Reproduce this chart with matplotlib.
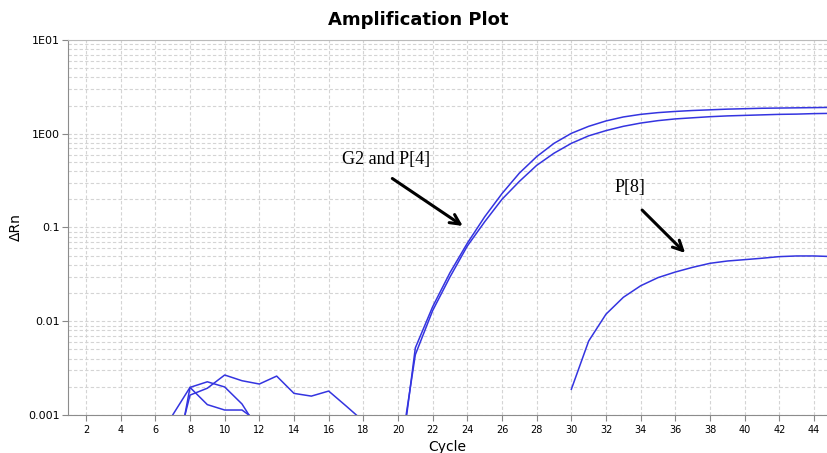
import matplotlib
matplotlib.use("Agg")
import matplotlib.pyplot as plt
from matplotlib.ticker import LogLocator, FixedLocator, NullFormatter
import numpy as np

# amplification curves (delta Rn per cycle)
amp_cycles = list(range(20, 46))
g2 = [0.00019, 0.0052, 0.0143, 0.033, 0.068, 0.13, 0.23, 0.38, 0.57, 0.79,
      1.01, 1.20, 1.37, 1.51, 1.61, 1.68, 1.73, 1.77, 1.80, 1.83,
      1.85, 1.87, 1.88, 1.89, 1.90, 1.91]
p4 = [0.00027, 0.0044, 0.0130, 0.0297, 0.0635, 0.115, 0.20, 0.31, 0.46, 0.62,
      0.79, 0.95, 1.08, 1.20, 1.30, 1.38, 1.44, 1.48, 1.52, 1.55,
      1.57, 1.59, 1.61, 1.62, 1.64, 1.65]
p8_cycles = list(range(30, 46))
p8 = [0.00188, 0.00615, 0.0119, 0.0180, 0.0239, 0.0292, 0.0335, 0.0376,
      0.0415, 0.0439, 0.0454, 0.0470, 0.0489, 0.0497, 0.0497, 0.0490]

# early-cycle baseline noise
noise_a_cycles = [6, 7, 8, 9, 10, 11, 12]
noise_a = [0.0001, 0.001, 0.00197, 0.00226, 0.00199, 0.00131, 0.00067]
noise_b_cycles = [7, 8, 9, 10, 11, 12]
noise_b = [0.0002, 0.00197, 0.00129, 0.00113, 0.00113, 0.00083]
noise_c_cycles = [7, 8, 9, 10, 11, 12, 13, 14, 15, 16, 17, 18]
noise_c = [0.0003, 0.00163, 0.00193, 0.00267, 0.00232, 0.00214, 0.00260,
           0.00170, 0.00159, 0.00180, 0.00125, 0.00086]

x_ticks = list(range(2, 45, 2))
y_ticks = [0.001, 0.01, 0.1, 1, 10]
y_labels = ['0.001', '0.01', '0.1', '1E00', '1E01']

line_color = '#3434e0'

fig = plt.figure(figsize=(8.27, 4.53), dpi=100)
ax = fig.add_axes([0.0822, 0.0839, 0.9178, 0.8278])

for cyc, vals in [(noise_a_cycles, noise_a), (noise_b_cycles, noise_b),
                  (noise_c_cycles, noise_c), (amp_cycles, g2),
                  (amp_cycles, p4), (p8_cycles, p8)]:
    ax.plot(cyc, vals, color=line_color, lw=1.1)

ax.set_yscale('log')
ax.set_xlim(0.96, 44.75)
ax.set_ylim(0.001, 10)

ax.xaxis.set_major_locator(FixedLocator(x_ticks))
ax.set_yticks(y_ticks)
ax.set_yticklabels(y_labels)
ax.yaxis.set_minor_locator(LogLocator(base=10, subs=np.arange(2, 10)))
ax.yaxis.set_minor_formatter(NullFormatter())

ax.grid(True, which='both', axis='y', color='#d4d4d4', ls=(0, (3, 2)), lw=0.8)
ax.grid(True, which='major', axis='x', color='#d4d4d4', ls=(0, (3, 2)), lw=0.8)
ax.set_axisbelow(True)

ax.tick_params(axis='x', labelsize=7, length=4, color='#888888', pad=3)
ax.tick_params(axis='y', labelsize=8, length=4, color='#888888', pad=2)
ax.tick_params(axis='y', which='minor', length=0)

for s in ['left', 'bottom']:
    ax.spines[s].set_color('#8c8c8c')
ax.spines['top'].set_color('#bbbbbb')
ax.spines['right'].set_visible(False)

ax.set_xlabel('Cycle', fontsize=10, labelpad=4)
ax.set_ylabel('ΔRn', fontsize=10, labelpad=4)
fig.text(0.506, 0.955, 'Amplification Plot', ha='center', va='center',
         fontsize=13, fontweight='bold', family='DejaVu Sans')

# annotations
serif = 'Liberation Serif'
ax.text(19.3, 0.53, 'G2 and P[4]', fontsize=13, family=serif,
        ha='center', va='center')
ax.annotate('', xy=(23.87, 0.1), xytext=(19.54, 0.346),
            arrowprops=dict(arrowstyle='->,head_length=0.7,head_width=0.35',
                            color='black', lw=2.2))
ax.text(33.4, 0.265, 'P[8]', fontsize=13, family=serif,
        ha='center', va='center')
ax.annotate('', xy=(36.68, 0.051), xytext=(33.97, 0.161),
            arrowprops=dict(arrowstyle='->,head_length=0.7,head_width=0.35',
                            color='black', lw=2.2))

fig.savefig('out.png', dpi=100)
